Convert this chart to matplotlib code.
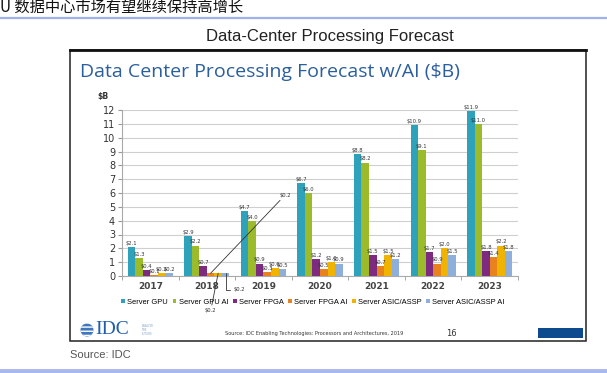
import matplotlib
matplotlib.use("Agg")
import matplotlib.pyplot as plt
import numpy as np
from matplotlib.patches import Rectangle, Ellipse
from matplotlib.lines import Line2D

W, H = 607, 373

years = ["2017", "2018", "2019", "2020", "2021", "2022", "2023"]
series = ["Server GPU", "Server GPU AI", "Server FPGA", "Server FPGA AI",
          "Server ASIC/ASSP", "Server ASIC/ASSP AI"]
gpu = [2.1, 2.9, 4.7, 6.7, 8.8, 10.9, 11.9]
gpu_ai = [1.3, 2.2, 4.0, 6.0, 8.2, 9.1, 11.0]
fpga = [0.4, 0.7, 0.9, 1.2, 1.5, 1.7, 1.8]
fpga_ai = [0.1, 0.2, 0.3, 0.5, 0.7, 0.9, 1.4]
asic = [0.2, 0.2, 0.6, 1.0, 1.5, 2.0, 2.2]
asic_ai = [0.2, 0.2, 0.5, 0.9, 1.2, 1.5, 1.8]
colors = ["#2ea2bb", "#9bbb2a", "#7d2a80", "#e8821e", "#f0b400", "#8eaedc"]


def fx(x):
    return x / W


def fy(y):
    return 1 - y / H


fig = plt.figure(figsize=(W / 100, H / 100), dpi=100)

# page header
fig.text(fx(0), fy(12), "U 数据中心市场有望继续保持高增长", fontsize=11,
         family=["Noto Sans CJK SC", "DejaVu Sans"], va="baseline", ha="left",
         color="#111111")
fig.add_artist(Line2D([0, 1], [fy(18), fy(18)], color="#9db2e6", lw=1.6))
fig.add_artist(Line2D([0, 1], [fy(371), fy(371)], color="#a8b8ec", lw=3.5))
fig.text(fx(330), fy(36), "Data-Center Processing Forecast", fontsize=12,
         family="Liberation Sans", ha="center", va="center", color="#222222")
fig.text(fx(70), fy(355), "Source: IDC", fontsize=8, family="Liberation Sans",
         ha="left", va="center", color="#555555")

# slide box
fig.add_artist(Rectangle((fx(70), fy(341)), fx(586) - fx(70), fy(50) - fy(341),
                         fill=False, ec="#222222", lw=1.1))
fig.add_artist(Line2D([fx(70), fx(586)], [fy(50), fy(50)], color="#111111", lw=2))
fig.text(fx(80), fy(72), "Data Center Processing Forecast w/AI ($B)", fontsize=14,
         family="Open Sans", ha="left", va="center", color="#2b5e9c")
fig.text(fx(103), fy(97), "$B", fontsize=5.5, fontweight="bold", ha="center",
         va="center", color="#333333")

# slide footer
fig.add_artist(Ellipse((fx(87), fy(330)), 13 / W, 13 / H, fc="#3f78bf",
                       ec="white", lw=0, hatch="----"))
fig.text(fx(95), fy(330), "IDC", fontsize=14, family="Liberation Serif",
         color="#1f5ea8", ha="left", va="center")
fig.text(fx(142), fy(330), "ANALYZE\nTHE\nFUTURE", fontsize=2, color="#8aa6cc",
         ha="left", va="center", linespacing=0.9)
fig.text(fx(314), fy(333), "Source: IDC Enabling Technologies: Processors and Architectures, 2019",
         fontsize=3.6, ha="center", va="center", color="#333333")
fig.text(fx(451), fy(333), "16", fontsize=6, ha="center", va="center", color="#333333")
fig.add_artist(Rectangle((fx(538), fy(338)), 45 / W, 10 / H, color="#0d4b8e", lw=0))

# chart
ax = fig.add_axes([fx(122), fy(276), 396 / W, 166 / H])
vals = [gpu, gpu_ai, fpga, fpga_ai, asic, asic_ai]
x = np.arange(len(years))
bw = 0.8 / len(series)
bars = []
for j, (name, v, c) in enumerate(zip(series, vals, colors)):
    pos = x + (j - 2.5) * bw
    b = ax.bar(pos, v, width=bw, color=c, label=name, zorder=3)
    bars.append(b)
    for i, (p, val) in enumerate(zip(pos, v)):
        if i == 1 and j >= 3:
            continue
        ax.text(p, val + 0.08, f"${val:.1f}", fontsize=3.8, ha="center",
                va="bottom", color="#333333", zorder=4)

# 2018 small values with leader lines
xb = x[1] + (np.arange(6) - 2.5) * bw
ax.annotate(f"${fpga_ai[1]:.1f}", xy=(xb[3], fpga_ai[1]), xytext=(2.28, 5.85),
            fontsize=3.8, va="center", ha="left", color="#333333",
            arrowprops=dict(arrowstyle="-", color="#333333", lw=0.6,
                            shrinkA=0, shrinkB=0), annotation_clip=False)
ax.annotate(f"${asic[1]:.1f}", xy=(xb[4], asic[1]), xytext=(1.07, -2.3),
            fontsize=3.8, va="top", ha="center", color="#333333",
            arrowprops=dict(arrowstyle="-", color="#333333", lw=0.6,
                            shrinkA=0, shrinkB=0), annotation_clip=False)
ax.annotate(f"${asic_ai[1]:.1f}", xy=(xb[5], asic_ai[1]), xytext=(1.48, -1.0),
            fontsize=3.8, va="center", ha="left", color="#333333",
            arrowprops=dict(arrowstyle="-", color="#333333", lw=0.6,
                            shrinkA=1, shrinkB=0,
                            connectionstyle="angle,angleA=0,angleB=90,rad=0"),
            annotation_clip=False)

ax.set_xlim(-0.5, len(years) - 0.5)
ax.set_ylim(0, 12)
ax.set_yticks(range(0, 13))
ax.yaxis.grid(True, color="#cfcfcf", lw=0.8, zorder=0)
ax.set_xticks(x)
ax.set_xticklabels(years, fontsize=6.5, fontweight="bold", color="#444444")
ax.set_xticks(np.arange(-0.5, len(years)), minor=True)
ax.tick_params(axis="x", which="major", length=0, pad=4)
ax.tick_params(axis="x", which="minor", length=3, color="#999999")
ax.tick_params(axis="y", labelsize=7, colors="#333333", length=3, pad=2)
ax.tick_params(axis="y", color="#999999")
for s in ["top", "right"]:
    ax.spines[s].set_visible(False)
for s in ["left", "bottom"]:
    ax.spines[s].set_color("#aaaaaa")
    ax.spines[s].set_linewidth(0.8)

fig.legend(handles=bars, labels=series, loc="center",
           bbox_to_anchor=(fx(313), fy(302)), ncol=6, frameon=False,
           handlelength=0.5, handleheight=0.5, handletextpad=0.3, columnspacing=0.6,
           borderpad=0, prop={"family": "Liberation Sans", "size": 5.4})

fig.savefig("out.png", dpi=100)
